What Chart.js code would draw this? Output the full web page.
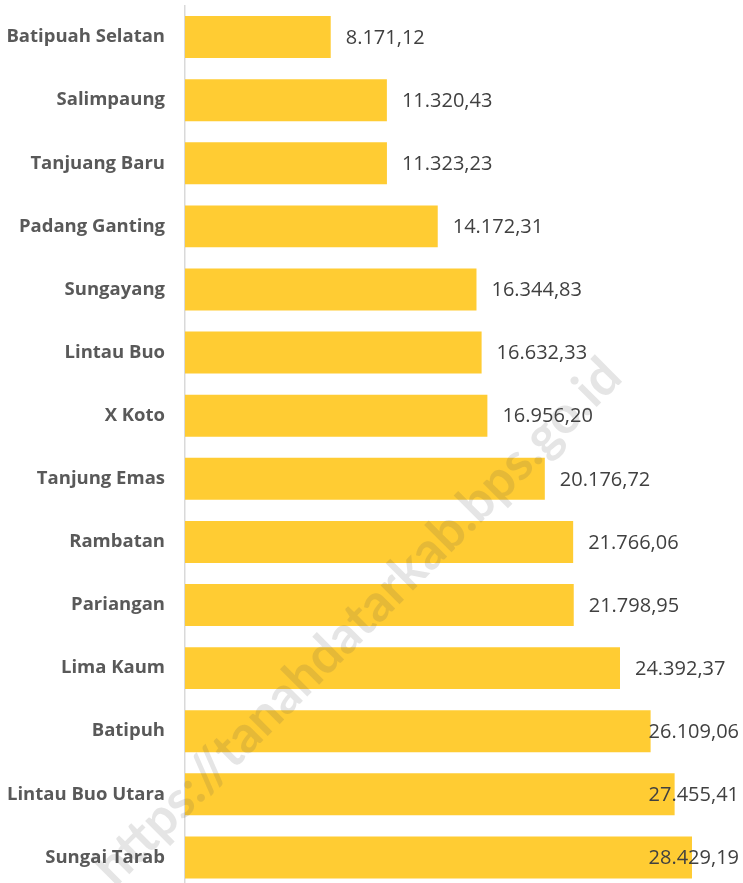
<!DOCTYPE html>
<html>
<head>
<meta charset="utf-8">
<script src="https://cdn.jsdelivr.net/npm/chart.js@4.4.1/dist/chart.umd.min.js"></script>
<style>
  html, body { margin: 0; padding: 0; background: #fff; overflow: hidden; }
</style>
</head>
<body>
<canvas id="chart" width="743" height="890"></canvas>
<script>
const kecamatan = [
  "Batipuah Selatan", "Salimpaung", "Tanjuang Baru", "Padang Ganting",
  "Sungayang", "Lintau Buo", "X Koto", "Tanjung Emas", "Rambatan",
  "Pariangan", "Lima Kaum", "Batipuh", "Lintau Buo Utara", "Sungai Tarab"
];
const nilai = [
  8171.12, 11320.43, 11323.23, 14172.31, 16344.83, 16632.33, 16956.20,
  20176.72, 21766.06, 21798.95, 24392.37, 26109.06, 27455.41, 28429.19
];
const watermark = "https://tanahdatarkab.bps.go.id";

// 28429.19 -> "28.429,19"
function formatId(v) {
  const parts = v.toFixed(2).split(".");
  const ribuan = parts[0].replace(/\B(?=(\d{3})+(?!\d))/g, ".");
  return ribuan + "," + parts[1];
}

const valueLabels = {
  id: "valueLabels",
  afterDatasetsDraw(chart) {
    const c = chart.ctx;
    const meta = chart.getDatasetMeta(0);
    c.save();
    c.font = '20px "Open Sans"';
    c.fillStyle = "#404040";
    c.textBaseline = "middle";
    meta.data.forEach((bar, i) => {
      const txt = formatId(nilai[i]);
      const w = c.measureText(txt).width;
      let x = bar.x + 15;
      if (x + w > 739) x = 739 - w;
      c.fillText(txt, x, bar.y + 1);
    });
    c.restore();
  }
};

const watermarkPlugin = {
  id: "watermark",
  afterDraw(chart) {
    const c = chart.ctx;
    c.save();
    c.translate(358, 622);
    c.rotate(-Math.PI / 4);
    c.font = 'bold 40px Lato';
    const w = c.measureText(watermark).width;
    const size = 40 * 720 / w;
    c.font = 'bold ' + size + 'px Lato';
    c.fillStyle = "rgba(80,80,80,0.15)";
    c.textAlign = "center";
    c.textBaseline = "middle";
    c.fillText(watermark, 0, 0);
    c.restore();
  }
};

new Chart(document.getElementById("chart"), {
  type: "bar",
  data: {
    labels: kecamatan,
    datasets: [{
      data: nilai,
      backgroundColor: "rgb(255,204,51)",
      categoryPercentage: 1,
      barPercentage: 0.665
    }]
  },
  options: {
    indexAxis: "y",
    responsive: false,
    animation: false,
    layout: { padding: { top: 5.5, right: 23, bottom: 1, left: 0 } },
    plugins: {
      legend: { display: false },
      tooltip: { enabled: false }
    },
    scales: {
      x: {
        display: false,
        min: 0,
        max: 30000
      },
      y: {
        afterFit: (scale) => {
          scale.width = 185;
          // no extra room for half labels at the ends
          scale.paddingTop = 0;
          scale.paddingBottom = 0;
        },
        grid: { display: false, drawTicks: false },
        border: { display: true, color: "#d9d9d9", width: 1.5 },
        ticks: {
          color: "#595959",
          padding: 20,
          font: { family: "Open Sans", weight: "bold", size: 18.5 }
        }
      }
    }
  },
  plugins: [valueLabels, watermarkPlugin]
});
</script>
</body>
</html>
